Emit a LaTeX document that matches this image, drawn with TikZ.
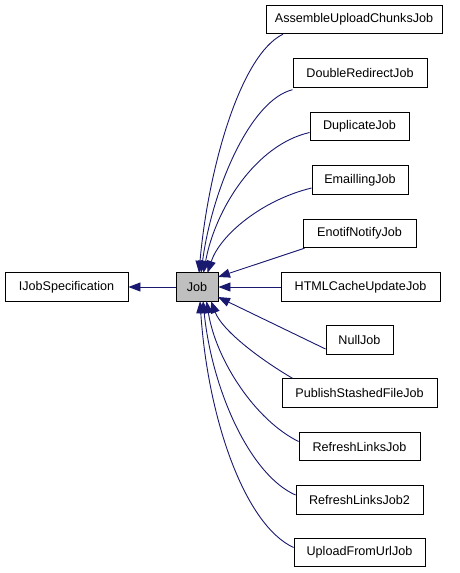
\documentclass[tikz,border=0pt]{standalone}
\usepackage{fontspec}
\setmainfont{Liberation Sans}
\usetikzlibrary{arrows.meta}
\definecolor{edgeblue}{HTML}{191970}
\definecolor{jobgray}{HTML}{BFBFBF}
\begin{document}
\begin{tikzpicture}[x=1pt,y=-1pt,
  box/.style={draw=black, line width=0.9pt, fill=white, inner sep=0pt, minimum height=28.5pt,
    font=\fontsize{12.6}{14}\selectfont, text=black},
  edge/.style={draw=edgeblue, line width=0.9pt, -{Triangle[length=12pt,width=9pt]}},
]
\useasboundingbox (0,0) rectangle (459,573);
\fill[white] (0,0) rectangle (459,573);
% nodes
\node[box, minimum width=123pt] (ijob) at (66.5,287) {IJobSpecification};
\node[box, minimum width=42pt, fill=jobgray] (job) at (197,287) {Job};
\node[box, minimum width=176pt] (a1) at (354,19.5) {AssembleUploadChunksJob};
\node[box, minimum width=134pt] (a2) at (360,73) {DoubleRedirectJob};
\node[box, minimum width=99pt] (a3) at (359.5,126.5) {DuplicateJob};
\node[box, minimum width=96pt] (a4) at (360,180) {EmaillingJob};
\node[box, minimum width=113pt] (a5) at (359.5,233.5) {EnotifNotifyJob};
\node[box, minimum width=159pt] (a6) at (360.5,287) {HTMLCacheUpdateJob};
\node[box, minimum width=67pt] (a7) at (359.5,340) {NullJob};
\node[box, minimum width=155pt] (a8) at (359.5,393) {PublishStashedFileJob};
\node[box, minimum width=121pt] (a9) at (359.5,446.5) {RefreshLinksJob};
\node[box, minimum width=127pt] (a10) at (359.5,500) {RefreshLinksJob2};
\node[box, minimum width=131pt] (a11) at (359.5,552.5) {UploadFromUrlJob};
% end points on Job
\coordinate (jt1) at (199,272.8);
\coordinate (jt2) at (201,272.8);
\coordinate (jt3) at (203.5,272.8);
\coordinate (jt4) at (207.5,272.8);
\coordinate (jr1) at (218,277);
\coordinate (jr3) at (218,297);
\coordinate (jb1) at (211,301.2);
\coordinate (jb2) at (206.5,301.2);
\coordinate (jb3) at (203,301.2);
\coordinate (jb4) at (200,301.2);
% edges
\draw[edge] (job.west) -- (ijob.east);
\draw[edge] ([xshift=-71pt]a1.south) .. controls (240,55) and (208,170) .. (jt1);
\draw[edge] ([yshift=-2pt]a2.south west) .. controls (250,100) and (212,190) .. (jt2);
\draw[edge] ([yshift=-6pt]a3.west) .. controls (255,145) and (215,210) .. (jt3);
\draw[edge] ([yshift=-8pt]a4.west) .. controls (262,200) and (220,235) .. (jt4);
\draw[edge] ([xshift=2pt]a5.south west) -- (jr1);
\draw[edge] (a6.west) -- (job.east);
\draw[edge] ([yshift=-9pt]a7.west) -- (jr3);
\draw[edge] ([xshift=11pt]a8.north west) .. controls (258,358) and (222,330) .. (jb1);
\draw[edge] ([yshift=5pt]a9.west) .. controls (255,420) and (216,360) .. (jb2);
\draw[edge] ([yshift=5pt]a10.west) .. controls (250,475) and (212,390) .. (jb3);
\draw[edge] ([yshift=5pt]a11.west) .. controls (245,525) and (208,420) .. (jb4);
\end{tikzpicture}
\end{document}
